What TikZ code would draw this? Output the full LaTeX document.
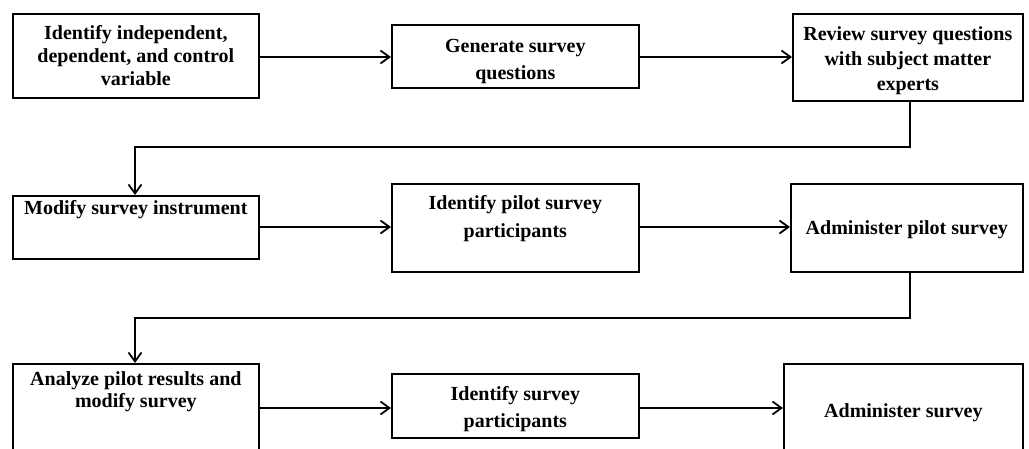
\documentclass[tikz,border=0pt]{standalone}
\usepackage{fontspec}
\setmainfont{Liberation Serif}
\usetikzlibrary{arrows.meta}
\newcommand\bxt[5]{\parbox[c][#1][t]{#2}{\centering\fontsize{20pt}{#3}\selectfont\vspace*{#4}#5\par}}
\tikzset{
  flowbox/.style={draw=black, line width=1.7pt, inner sep=0pt, anchor=north west, font=\bfseries},
  flowarr/.style={line width=1.8pt, -{Straight Barb[length=9pt,width=13pt,line width=1.8pt]}},
}
\begin{document}
\begin{tikzpicture}[x=1pt,y=-1pt]
\useasboundingbox (0,0) rectangle (1029,449);
\clip (0,0) rectangle (1029,449);
% row 1
\node[flowbox] (b1) at (12,13) {\bxt{84pt}{246pt}{23pt}{12pt}{Identify independent,\\dependent, and control\\variable}};
\node[flowbox] (b2) at (391,24) {\bxt{63pt}{247pt}{27pt}{14pt}{Generate survey\\questions}};
\node[flowbox] (b3) at (792,13) {\bxt{87pt}{230pt}{25pt}{13pt}{Review survey questions\\with subject matter\\experts}};
% row 2
\node[flowbox] (b4) at (12,195) {\bxt{63pt}{246pt}{23pt}{5pt}{Modify survey instrument}};
\node[flowbox] (b5) at (391,183) {\bxt{88pt}{247pt}{28pt}{12pt}{Identify pilot survey\\participants}};
\node[flowbox] (b6) at (790,183) {\bxt{88pt}{232pt}{25pt}{37pt}{Administer pilot survey}};
% row 3
\node[flowbox] (b7) at (12,363) {\bxt{90pt}{246pt}{22pt}{8pt}{Analyze pilot results and\\modify survey}};
\node[flowbox] (b8) at (391,373) {\bxt{64pt}{247pt}{27pt}{13pt}{Identify survey\\participants}};
\node[flowbox] (b9) at (783,363) {\bxt{90pt}{239pt}{25pt}{40pt}{Administer survey}};
% connectors
\coordinate (c1) at (910,147);
\coordinate (c2) at (135,147);
\coordinate (c3) at (910,318);
\coordinate (c4) at (135,318);
\draw[flowarr] (b1.east |- 0,57) -- (b2.west |- 0,57);
\draw[flowarr] (b2.east |- 0,57) -- (b3.west |- 0,57);
\draw[flowarr] (b3.south -| c1) -- (c1) -- (c2) -- (b4.north -| c2);
\draw[flowarr] (b4.east |- 0,227) -- (b5.west |- 0,227);
\draw[flowarr] (b5.east |- 0,227) -- (b6.west |- 0,227);
\draw[flowarr] (b6.south -| c3) -- (c3) -- (c4) -- (b7.north -| c4);
\draw[flowarr] (b7.east |- 0,408) -- (b8.west |- 0,408);
\draw[flowarr] (b8.east |- 0,408) -- (b9.west |- 0,408);
\end{tikzpicture}
\end{document}
